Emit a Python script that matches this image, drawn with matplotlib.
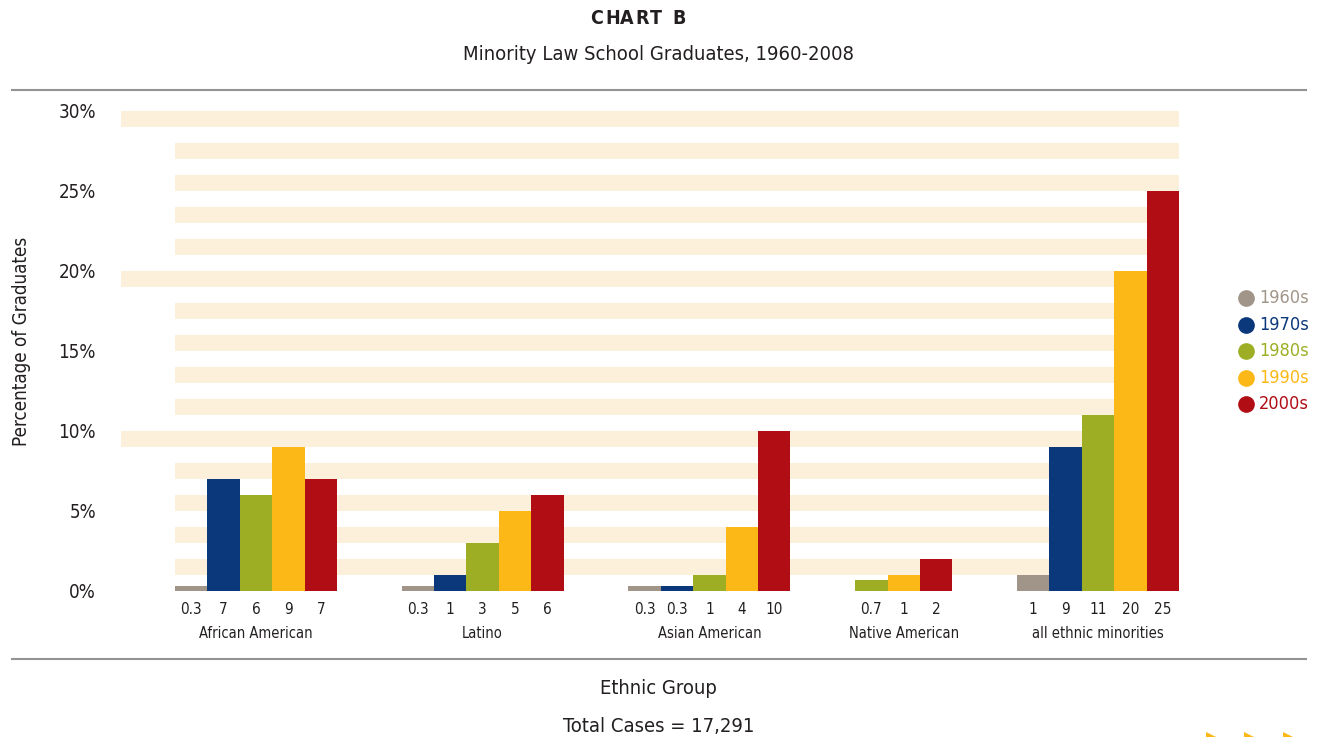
import matplotlib.pyplot as plt
from matplotlib.lines import Line2D
from matplotlib.patches import Polygon

# Data (percent of graduates)
groups = ['African American', 'Latino', 'Asian American', 'Native American', 'all ethnic minorities']
decades = ['1960s', '1970s', '1980s', '1990s', '2000s']
group_decades = [
    ['1960s', '1970s', '1980s', '1990s', '2000s'],
    ['1960s', '1970s', '1980s', '1990s', '2000s'],
    ['1960s', '1970s', '1980s', '1990s', '2000s'],
    ['1980s', '1990s', '2000s'],
    ['1960s', '1970s', '1980s', '1990s', '2000s'],
]
group_values = [
    [0.3, 7, 6, 9, 7],
    [0.3, 1, 3, 5, 6],
    [0.3, 0.3, 1, 4, 10],
    [0.7, 1, 2],
    [1, 9, 11, 20, 25],
]
group_labels = [
    ['0.3', '7', '6', '9', '7'],
    ['0.3', '1', '3', '5', '6'],
    ['0.3', '0.3', '1', '4', '10'],
    ['0.7', '1', '2'],
    ['1', '9', '11', '20', '25'],
]
y_ticks = [0, 5, 10, 15, 20, 25, 30]

colors = {'1960s': '#a19589', '1970s': '#0b377b', '1980s': '#9dae24',
          '1990s': '#fbb817', '2000s': '#b00d15'}
stripe_col = '#fdf0db'
text_col = '#231f20'
line_col = '#939393'

plt.rcParams['font.family'] = ['DejaVu Sans']
plt.rcParams['font.stretch'] = 'condensed'

fig = plt.figure(figsize=(13.17, 7.37), dpi=100)
ax = fig.add_axes([121 / 1317, 146 / 737, 1058 / 1317, 480 / 737])

gap = 2
x_left = -54 / 32.4

# background stripes: every other percent band, 10/20/30 bands extend further left
for k in range(15):
    lo = 2 * k + 1
    start = x_left if (lo + 1) % 10 == 0 else 0
    ax.barh(lo + 0.5, 31 - start, left=start, height=1, color=stripe_col,
            linewidth=0, zorder=0)

centers, tick_text = [], []
pos = 0
for g, decs, vals, labs in zip(groups, group_decades, group_values, group_labels):
    xs = [pos + i + 0.5 for i in range(len(vals))]
    ax.bar(xs, vals, width=1.0, color=[colors[d] for d in decs], linewidth=0, zorder=2)
    centers += xs
    tick_text += labs
    ax.text((xs[0] + xs[-1]) / 2, -42 / 16, g, ha='center', va='center',
            fontsize=10.5, color=text_col)
    pos += len(vals) + gap

ax.set_xlim(x_left, 31)
ax.set_ylim(0, 30)
ax.set_xticks(centers, tick_text, fontsize=11, color=text_col)
ax.set_yticks(y_ticks, [f'{v}%' for v in y_ticks], fontsize=13.5, color=text_col)
ax.tick_params(axis='x', length=0, pad=8)
ax.tick_params(axis='y', length=0, pad=18)
for s in ax.spines.values():
    s.set_visible(False)

# titles and labels (letter-spaced heading)
for ch, xc in zip('CHARTB', (597, 612.5, 627, 642.5, 656, 679.5)):
    fig.text(xc / 1317, 1 - 18 / 737, ch, ha='center', va='center',
             fontsize=14, fontweight='bold', color=text_col)
fig.text(0.5, 1 - 55 / 737, 'Minority Law School Graduates, 1960-2008', ha='center',
         va='center', fontsize=14.5, color=text_col)
fig.text(22 / 1317, 1 - 341 / 737, 'Percentage of Graduates', rotation=90,
         ha='center', va='center', fontsize=13.5, color=text_col)
fig.text(0.5, 1 - 689 / 737, 'Ethnic Group', ha='center', va='center',
         fontsize=14.5, color=text_col)
fig.text(0.5, 1 - 726 / 737, 'Total Cases = 17,291', ha='center', va='center',
         fontsize=14.5, color=text_col)

# rules
for yy in (90, 659):
    fig.add_artist(Line2D([12 / 1317, 1306 / 1317], [1 - yy / 737] * 2,
                          color=line_col, lw=1.5))

# legend
for i, d in enumerate(decades):
    yy = 1 - (298 + i * 26.6) / 737
    fig.add_artist(Line2D([1246 / 1317], [yy], marker='o', markersize=11,
                          color=colors[d], linestyle='none'))
    fig.text(1259 / 1317, yy, d, ha='left', va='center', fontsize=13, color=colors[d])

# decorative arrows bottom right
for x0 in (1206, 1244, 1283):
    pts = [(x0 / 1317, 1 - 732 / 737), ((x0 + 10) / 1317, 1 - 737 / 737),
           (x0 / 1317, 1 - 742 / 737)]
    fig.add_artist(Polygon(pts, closed=True, color='#fbb817', lw=0))

fig.savefig('out.png', dpi=100)
